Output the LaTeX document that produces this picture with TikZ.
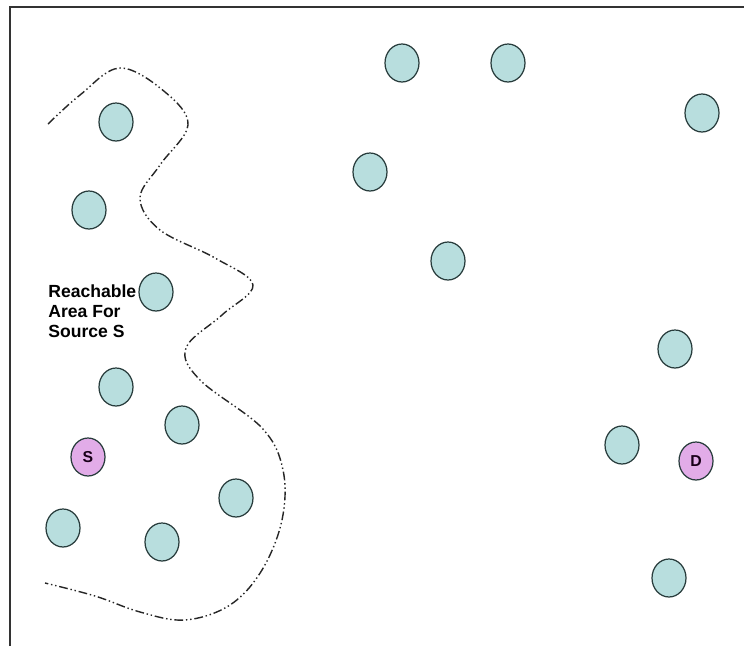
\documentclass[tikz,border=0pt]{standalone}
\usepackage{fontspec}
\setmainfont{Liberation Sans}
\usetikzlibrary{shapes.geometric}
\definecolor{relayfill}{RGB}{184,222,222}
\definecolor{endfill}{RGB}{226,172,232}
\definecolor{rim}{RGB}{40,60,60}
\begin{document}
\begin{tikzpicture}[x=0.02cm,y=-0.02cm,
  hop/.style={draw=rim,line width=0.7pt,fill=relayfill,ellipse,minimum width=0.68cm,minimum height=0.76cm,inner sep=0pt},
  term/.style={hop,fill=endfill,font=\bfseries\small,text=black!80!violet},
  reach/.style={line width=0.8pt,black!85,dash pattern=on 5pt off 1.6pt on 0.8pt off 1.6pt on 0.8pt off 1.6pt}]
\useasboundingbox (0,0) rectangle (744,646);
\fill[white] (0,0) rectangle (744,646);
\draw[line width=1pt,black!80] (10,646) -- (10,7) -- (744,7);

   % nodes inside the area
   \node[hop] at (116,122) (a1) {};
   \node[hop] at (89,210)  (a2) {};
   \node[hop] at (156,292) (a3) {};
   \node[hop] at (116,387) (a4) {};
   \node[hop] at (182,425) (a5) {};
   \node[hop] at (236,498) (a6) {};
   \node[hop] at (63,528)  (a7) {};
   \node[hop] at (162,542) (a8) {};
   \node[term] at (88,457) (S) {S};

   % nodes outside
   \node[hop] at (402,63)  (b1) {};
   \node[hop] at (508,63)  (b2) {};
   \node[hop] at (702,113) (b3) {};
   \node[hop] at (370,172) (b4) {};
   \node[hop] at (448,261) (b5) {};
   \node[hop] at (675,349) (b6) {};
   \node[hop] at (622,445) (b7) {};
   \node[hop] at (669,578) (b8) {};
   \node[term] at (696,461) (D) {D};

   \node[anchor=north west,align=left,font=\bfseries\fontsize{10}{11.4}\selectfont,inner sep=0pt] at (48,284) (lbl) {Reachable\\Area For\\Source S};

   \draw[reach] plot[smooth,tension=0.6] coordinates {(48,124) (80,95) (120,68) (165,92) (188,125) (160,165) (140,198) (160,230) (215,258) (253,285) (222,315) (186,348) (200,380) (262,428) (283,470) (282,520) (262,570) (230,605) (185,620) (140,612) (95,596) (45,583)};
\end{tikzpicture}
\end{document}
